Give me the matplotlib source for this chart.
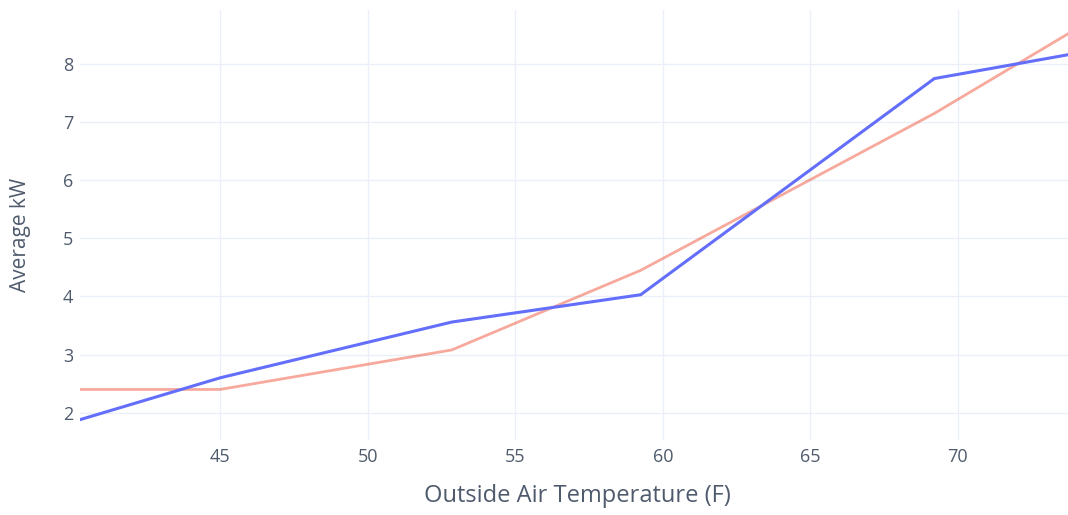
import matplotlib
matplotlib.use("Agg")
import matplotlib.pyplot as plt

# Data
temp_x = [40.25, 45.0, 52.85, 59.25, 69.2, 73.73]
actual_kw = [1.88, 2.60, 3.56, 4.03, 7.75, 8.16]
model_kw = [2.40, 2.40, 3.08, 4.45, 7.15, 8.52]

x_ticks = [45, 50, 55, 60, 65, 70]
y_ticks = [2, 3, 4, 5, 6, 7, 8]

plt.rcParams['font.family'] = ['Open Sans', 'DejaVu Sans']

fig = plt.figure(figsize=(10.68, 5.15), dpi=100)
ax = fig.add_axes([80/1068, 1 - 440/515, 1 - 80/1068, 430/515])

grid_c = '#EBF0F8'
text_c = '#4f5b6d'

ax.plot(temp_x, model_kw, color='#EF553B', alpha=0.5, lw=2.0, zorder=3)
ax.plot(temp_x, actual_kw, color='#636EFA', lw=2.2, zorder=4)

ax.set_xlim(40.25, 73.73)
ax.set_ylim(1.53, 8.93)
ax.set_xticks(x_ticks)
ax.set_yticks(y_ticks)
ax.grid(True, color=grid_c, lw=1.0)
ax.set_axisbelow(True)
for s in ax.spines.values():
    s.set_visible(False)
ax.tick_params(axis='both', length=0, labelsize=13, colors=text_c)
ax.tick_params(axis='x', pad=6)
ax.tick_params(axis='y', pad=5)

ax.set_xlabel('Outside Air Temperature (F)', fontsize=17, color=text_c)
ax.set_ylabel('Average kW', fontsize=15, color=text_c)
ax.xaxis.set_label_coords(0.503, -0.103)
ax.yaxis.set_label_coords(-0.05, 0.477)

fig.savefig('out.png', dpi=100, facecolor='white')
